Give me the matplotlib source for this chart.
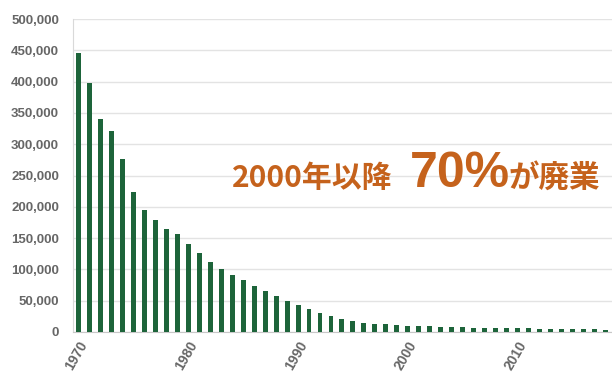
import matplotlib
matplotlib.use("Agg")
import matplotlib.pyplot as plt
from matplotlib.ticker import FuncFormatter

years = list(range(1970, 2019))
counts = [445000, 398000, 340000, 321000, 277000, 223000, 195000, 179000, 165000, 156000,
          141000, 126000, 112000, 100000, 91000, 83000, 74000, 65000, 57000, 50000,
          43500, 36000, 29600, 26000, 21500, 17800, 14800, 13000, 12000, 11000,
          10200, 9600, 8800, 8200, 7500, 7200, 7000, 6600, 6400, 6100,
          5900, 5600, 5300, 5000, 4800, 4500, 4300, 4000, 3800]
xticks = [1970, 1980, 1990, 2000, 2010]
yticks = [0, 50000, 100000, 150000, 200000, 250000, 300000, 350000, 400000, 450000, 500000]
note_a = "2000年以降"
note_b = "70%"
note_c = "が廃業"

plt.rcParams['font.family'] = ['Noto Sans CJK JP', 'DejaVu Sans']

fig = plt.figure(figsize=(6.12, 3.72), dpi=100)
ax = fig.add_axes([73/612, 40/372, 1 - 73/612, 313/372])

ax.bar(years, counts, width=0.45, color='#1d643a', zorder=3)
ax.set_xlim(1969.5, 2018.6)
ax.set_ylim(0, 500000)
ax.set_yticks(yticks)
ax.yaxis.set_major_formatter(FuncFormatter(lambda v, p: f"{int(v):,}"))
ax.set_xticks(xticks)
ax.set_xticklabels([str(x) for x in xticks], rotation=60, ha='right', rotation_mode='anchor')
ax.grid(axis='y', color='#e3e3e3', linewidth=1, zorder=0)
for s in ['top', 'right']:
    ax.spines[s].set_visible(False)
ax.spines['left'].set_color('#d9d9d9')
ax.spines['bottom'].set_color('#c8c8c8')
ax.tick_params(axis='both', length=0, colors='#666666')
for lab in ax.get_yticklabels():
    lab.set_fontfamily('Liberation Sans')
    lab.set_fontweight('bold')
    lab.set_fontsize(9.5)
for lab in ax.get_xticklabels():
    lab.set_fontfamily('Liberation Sans')
    lab.set_fontweight('bold')
    lab.set_fontsize(10)
ax.tick_params(axis='y', pad=10)
ax.tick_params(axis='x', pad=5)

orange = '#c5621c'
fig.text(232/612, 1 - 187/372, note_a, fontsize=21.5, fontweight='bold', color=orange, ha='left', va='baseline')
fig.text(410/612, 1 - 187/372, note_b, fontsize=36, fontweight='bold', color=orange, ha='left', va='baseline',
         family=['Liberation Sans', 'DejaVu Sans'])
fig.text(509/612, 1 - 187/372, note_c, fontsize=22, fontweight='bold', color=orange, ha='left', va='baseline')

fig.savefig('out.png', dpi=100)
